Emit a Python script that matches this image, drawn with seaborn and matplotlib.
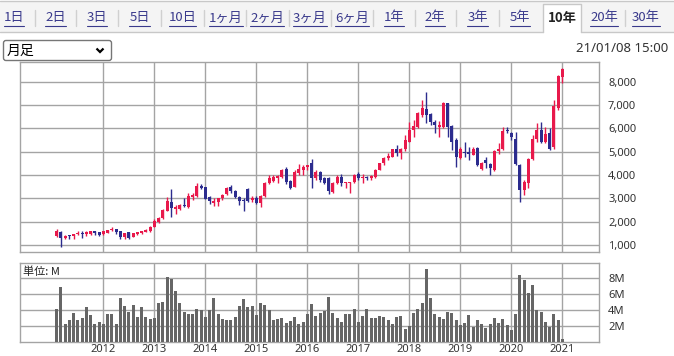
import numpy as np
import pandas as pd
import matplotlib
matplotlib.use("Agg")
import matplotlib.pyplot as plt
import seaborn as sns
from matplotlib.patches import Rectangle, FancyBboxPatch

# ---------------- data ----------------
months = pd.date_range("2011-02-01", periods=120, freq="MS")

opens = [1390, 1570, 1320, 1400, 1380, 1460, 1510, 1460, 1480, 1600,
         1550, 1470, 1520, 1650, 1690, 1600, 1360, 1540, 1360, 1470,
         1500, 1560, 1600, 1790, 1970, 2140, 2480, 2860, 2560, 2560,
         2720, 2640, 3050, 3100, 3530, 3480, 3070, 2820, 2850, 3000,
         3170, 3500, 3310, 3070, 2920, 3390, 2950, 3030, 2790, 3100,
         3640, 3760, 3880, 3930, 4280, 3740, 3500, 4070, 4200, 4330,
         4530, 3860, 4140, 3860, 3860, 3290, 3640, 3930, 3640, 3660,
         3710, 4030, 3860, 3930, 3870, 3900, 4210, 4500, 4740, 4790,
         5100, 4950, 5100, 5430, 5930, 6070, 6570, 6810, 6610, 6290,
         6070, 6070, 7070, 6100, 5510, 4740, 5000, 5000, 4870, 5170,
         4260, 4640, 4460, 4210, 5040, 5100, 5930, 5790, 5530, 4430,
         3360, 3670, 4690, 5530, 5930, 5430, 5810, 5190, 6860, 8190]
highs = [1690, 1600, 1430, 1430, 1480, 1600, 1600, 1600, 1620, 1620,
         1560, 1620, 1660, 1760, 1700, 1610, 1520, 1560, 1500, 1580,
         1620, 1680, 1800, 2100, 2200, 2550, 3050, 3400, 2700, 2760,
         3000, 3240, 3240, 3660, 3600, 3500, 3100, 3000, 3000, 3200,
         3500, 3570, 3350, 3100, 3000, 3450, 3100, 3100, 3150, 3720,
         4000, 4000, 4020, 4250, 4330, 3780, 4200, 4470, 4450, 4430,
         4690, 4200, 4180, 3900, 3900, 3700, 4000, 4060, 3700, 3720,
         4030, 4140, 4050, 3960, 4000, 4260, 4530, 4760, 4960, 5130,
         5290, 5150, 5700, 6290, 6360, 6700, 7210, 7570, 6650, 6340,
         6300, 7140, 7100, 6140, 5570, 5200, 5430, 5190, 5190, 5190,
         4550, 4760, 4500, 5070, 5390, 6070, 6040, 5830, 5860, 4460,
         3800, 4740, 5700, 6210, 6290, 6040, 6000, 7210, 8290, 8600]
lows = [1360, 900, 1270, 1250, 1240, 1420, 1300, 1390, 1450, 1450,
        1400, 1450, 1500, 1620, 1480, 1270, 1240, 1240, 1330, 1450,
        1480, 1540, 1580, 1770, 1950, 2100, 2450, 2190, 2310, 2500,
        2640, 2600, 2950, 3050, 3400, 2960, 2780, 2680, 2680, 2950,
        3150, 3250, 3000, 2700, 2480, 2850, 2850, 2750, 2650, 3050,
        3600, 3700, 3650, 3880, 3620, 3400, 3480, 4000, 4000, 4200,
        3430, 3800, 3700, 3600, 3200, 3230, 3600, 3550, 3430, 3240,
        3680, 3800, 3640, 3800, 3790, 3880, 4200, 4450, 4650, 4770,
        4800, 4670, 5050, 5400, 5640, 6000, 6500, 6210, 6140, 5790,
        5640, 6000, 5640, 5070, 4330, 4700, 4790, 4640, 4850, 4400,
        4200, 4290, 4000, 4170, 4900, 5070, 5790, 5500, 4430, 2860,
        3140, 3430, 4640, 5430, 5360, 5360, 5070, 5100, 6800, 7950]
closes = [1600, 1310, 1390, 1380, 1460, 1500, 1480, 1570, 1600, 1500,
          1420, 1600, 1640, 1690, 1540, 1350, 1500, 1310, 1500, 1540,
          1590, 1650, 1790, 2040, 2150, 2500, 2890, 2570, 2620, 2720,
          2660, 3100, 3130, 3530, 3460, 2990, 2900, 2900, 3000, 3140,
          3460, 3330, 3070, 2880, 2880, 2900, 3010, 2800, 3100, 3670,
          3860, 3930, 3960, 4210, 3710, 3430, 4140, 4240, 4330, 4420,
          3860, 4140, 3790, 3640, 3300, 3640, 3930, 3640, 3710, 3710,
          4000, 3860, 3900, 3880, 3950, 4210, 4500, 4740, 4830, 5100,
          4960, 5110, 5500, 5930, 6100, 6640, 6890, 6570, 6290, 6140,
          6140, 7100, 6070, 5430, 4790, 5110, 4960, 4900, 5130, 4430,
          4500, 4500, 4290, 5040, 5100, 5900, 5880, 5640, 4470, 3360,
          3710, 4690, 5560, 5930, 5430, 5760, 5100, 6960, 8240, 8530]
volumes = [4.16, 6.95, 2.29, 2.79, 3.66, 2.79, 3.04, 4.41, 3.41, 2.29,
           2.54, 2.29, 3.54, 3.54, 2.29, 5.54, 4.54, 3.79, 4.66, 3.16,
           4.41, 3.16, 2.91, 3.04, 4.91, 5.04, 8.16, 7.91, 6.41, 4.91,
           3.79, 3.54, 3.54, 4.16, 4.04, 3.16, 4.04, 5.54, 3.54, 2.91,
           2.79, 2.79, 3.16, 4.54, 5.41, 4.41, 4.54, 3.41, 4.91, 4.66,
           4.04, 2.79, 2.91, 3.04, 2.41, 2.66, 3.16, 2.29, 2.54, 3.54,
           4.79, 3.29, 3.66, 3.91, 5.66, 3.66, 3.04, 2.58, 3.54, 3.54,
           4.16, 2.54, 3.29, 4.16, 3.04, 3.04, 3.29, 3.16, 2.79, 2.29,
           3.16, 3.29, 1.66, 2.04, 3.66, 4.16, 4.91, 9.16, 5.54, 3.54,
           3.16, 2.91, 3.79, 3.66, 2.79, 2.16, 2.41, 3.41, 1.91, 2.79,
           2.29, 1.79, 2.29, 3.04, 2.41, 2.91, 2.16, 1.54, 3.54, 8.41,
           7.79, 6.16, 7.16, 4.04, 3.79, 2.54, 1.91, 3.54, 2.79, 0.41]
price_ticks = [1000, 2000, 3000, 4000, 5000, 6000, 7000, 8000]
volume_ticks = [2, 4, 6, 8]
tab_labels = ["1日", "2日", "3日", "5日", "10日", "1ヶ月", "2ヶ月", "3ヶ月",
              "6ヶ月", "1年", "2年", "3年", "5年", "10年", "20年", "30年"]
selected_tab = "10年"
period_label = "月足"
timestamp = "21/01/08 15:00"
unit_label = "単位: M"

# ---------------- style ----------------
sns.set_style("white")
plt.rcParams["font.family"] = ["Noto Sans", "Noto Sans CJK JP", "DejaVu Sans"]

W, H = 674, 356
RED = "#e8194b"
BLUE = "#2c2c8e"
GRID = "#a4a4a4"
TXT = "#333333"

fig = plt.figure(figsize=(W / 100, H / 100), dpi=100)
fig.patch.set_facecolor("white")


def frac(x0, y0, x1, y1):
    return [x0 / W, 1 - y1 / H, (x1 - x0) / W, (y1 - y0) / H]


# ---------------- header (tabs, selector, timestamp) ----------------
bg = fig.add_axes([0, 0, 1, 1], zorder=-5)
bg.set_xlim(0, W)
bg.set_ylim(H, 0)
bg.axis("off")

bg.add_patch(Rectangle((0, 1), W, 31, facecolor="#f4f4f4", edgecolor="none"))
bg.plot([0, W], [1, 1], color="#c8c8c8", lw=1)
tab_x = [14, 55.6, 97, 139.7, 182.5, 225.7, 267, 310, 352, 394, 435,
         477.6, 520, 562.5, 604, 646]
sel = tab_labels.index(selected_tab)
sx0 = (tab_x[sel - 1] + tab_x[sel]) / 2 + 2
sx1 = (tab_x[sel] + tab_x[sel + 1]) / 2 - 2
bg.plot([0, sx0], [32, 32], color="#c8c8c8", lw=1)
bg.plot([sx1, W], [32, 32], color="#c8c8c8", lw=1)
bg.add_patch(Rectangle((sx0, 4), sx1 - sx0, 29, facecolor="white",
                       edgecolor="none"))
bg.plot([sx0, sx0, sx1, sx1], [32, 4, 4, 32], color="#c8c8c8", lw=1)

tab_texts = []
for i, (lab, x) in enumerate(zip(tab_labels, tab_x)):
    bold = (i == sel)
    t = bg.text(x, 18, lab, ha="center", va="center", fontsize=9.5,
                color="#222222" if bold else "#3a3a8c",
                fontweight="bold" if bold else "normal",
                family=["Noto Sans CJK JP", "DejaVu Sans"])
    tab_texts.append((t, bold))
    if i < len(tab_labels) - 1 and i != sel and i + 1 != sel:
        mx = (x + tab_x[i + 1]) / 2
        bg.plot([mx, mx], [10, 26], color="#d0d0d0", lw=1)

# selector box
bg.add_patch(FancyBboxPatch((3.5, 40.5), 108, 20, boxstyle="round,pad=0,rounding_size=2.5",
                            facecolor="white", edgecolor="#767676", lw=1))
bg.text(7, 51, period_label, ha="left", va="center", fontsize=10, color="black",
        family=["Noto Sans CJK JP", "DejaVu Sans"])
bg.plot([96.5, 100, 103.5], [48.5, 52, 48.5], color="black", lw=1.6,
        solid_capstyle="butt", solid_joinstyle="miter")

bg.text(668, 49, timestamp, ha="right", va="center", fontsize=9.5, color=TXT)

# ---------------- price panel ----------------
ax = fig.add_axes(frac(20, 62, 599, 252.3))
idx = np.arange(len(months))
o = np.array(opens, float)
c = np.array(closes, float)
up = c >= o
cols = np.where(up, RED, BLUE)
ax.vlines(idx, lows, highs, colors=cols, lw=1, zorder=3)
body_bottom = np.minimum(o, c)
body_h = np.maximum(np.abs(c - o), 45)
ax.bar(idx, body_h, bottom=body_bottom, width=0.72, color=cols, linewidth=0,
       zorder=4)

year_idx = [k for k, m in enumerate(months) if m.month == 1]
year_lab = [str(months[k].year) for k in year_idx]

x_lo, x_hi = -8.6, 127.6
ax.set_xlim(x_lo, x_hi)
ax.set_ylim(690, 8845)
ax.set_xticks(year_idx)
ax.set_xticklabels([])
ax.set_yticks(price_ticks)
ax.set_yticklabels([f"{v:,}" for v in price_ticks])
ax.yaxis.tick_right()
ax.tick_params(axis="x", length=0)
ax.tick_params(axis="y", length=0, pad=6.5, labelsize=8, labelcolor=TXT)
ax.grid(True, color=GRID, lw=1)
ax.set_axisbelow(True)
for s in ax.spines.values():
    s.set_color(GRID)
    s.set_linewidth(1)

# ---------------- volume panel ----------------
axv = fig.add_axes(frac(20, 263, 599, 342.3))
vol_df = pd.DataFrame({"i": idx, "vol": volumes})
sns.barplot(data=vol_df, x="i", y="vol", native_scale=True, width=0.72,
            color="#666666", saturation=1, errorbar=None, linewidth=0,
            ax=axv, zorder=3)
axv.set_xlim(x_lo, x_hi)
axv.set_ylim(0, 9.91)
axv.set_xticks(year_idx)
axv.set_xticklabels(year_lab)
axv.set_yticks(volume_ticks)
axv.set_yticklabels([f"{v}M" for v in volume_ticks])
axv.yaxis.tick_right()
axv.set_xlabel("")
axv.set_ylabel("")
axv.tick_params(axis="x", length=0, pad=1.5, labelsize=8, labelcolor=TXT)
axv.tick_params(axis="y", length=0, pad=6.5, labelsize=8, labelcolor=TXT)
axv.grid(True, color=GRID, lw=1)
axv.set_axisbelow(True)
for s in axv.spines.values():
    s.set_color(GRID)
    s.set_linewidth(1)
axv.text(3 / 579, 1 - 9 / 79.3, unit_label, transform=axv.transAxes,
         ha="left", va="center", fontsize=8, color="#222222",
         family=["Noto Sans CJK JP", "DejaVu Sans"], zorder=5)

# underline for link tabs
fig.canvas.draw()
r = fig.canvas.get_renderer()
inv = bg.transData.inverted()
for t, bold in tab_texts:
    if bold:
        continue
    bb = t.get_window_extent(r)
    (x0, _), (x1, _) = inv.transform([(bb.x0, bb.y0), (bb.x1, bb.y1)])
    bg.plot([x0, x1], [26, 26], color="#3a3a8c", lw=0.8)

fig.savefig("out.png", dpi=100)
